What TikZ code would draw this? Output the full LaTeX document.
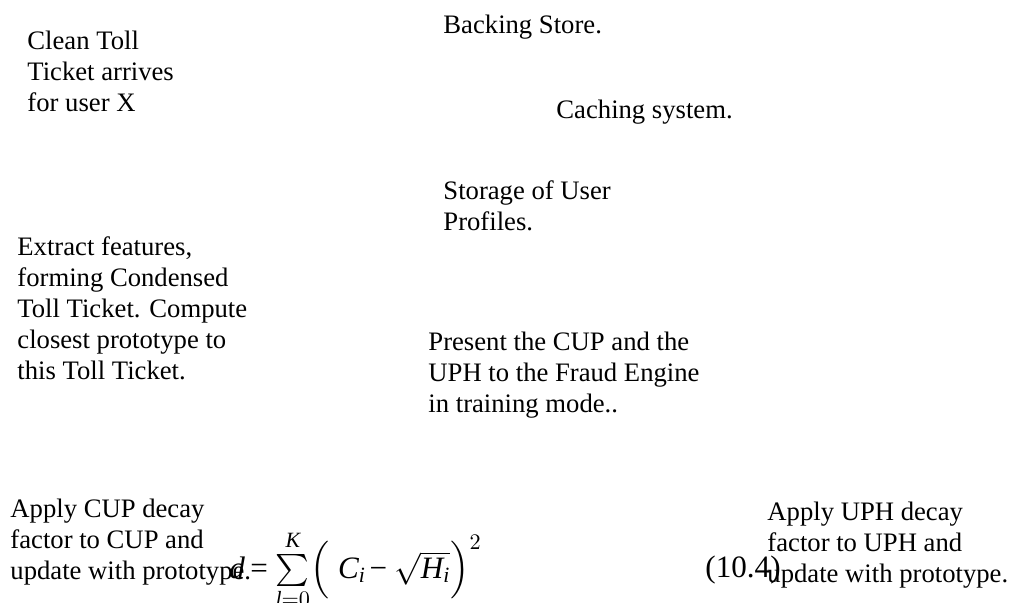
\documentclass[tikz,border=0pt]{standalone}
\usepackage{amsmath}
\usepackage{fontspec}
\setmainfont{Liberation Serif}

\begin{document}
\begin{tikzpicture}[x=0.45pt,y=-0.45pt]

\tikzset{note/.style = {anchor=base west, inner sep=0pt, align=left,
  font=\fontsize{12}{13.95}\selectfont}}
\tikzset{formula/.style = {anchor=base west, inner sep=0pt,
  font=\fontsize{14}{16}\selectfont}}

\useasboundingbox (0,0) rectangle (1009,602);

%labels (base = baseline of the last line)
\node[note] (clean) at (27,111) {Clean Toll\\Ticket arrives\\for user X};
\node[note] (backing) at (443,33) {Backing Store.};
\node[note] (caching) at (556,118) {Caching system.};
\node[note] (storage) at (443,230) {Storage of User\\Profiles.};
\node[note] (extract) at (17,379) {Extract features,\\forming Condensed\\Toll Ticket. Compute\\closest prototype to\\this Toll Ticket.};
\node[note] (present) at (428,412) {Present the CUP and the\\UPH to the Fraud Engine\\in training mode..};
\node[note] (cupdecay) at (10,579) {Apply CUP decay\\factor to CUP and\\update with prototype.};
\node[note] (uphdecay) at (767,582) {Apply UPH decay\\factor to UPH and\\update with prototype.};

%equation
\node[formula] (dist) at (229,578)
  {\textit{d}\,= $\sum\limits_{\textit{l}=0}^{\textit{K}}\Bigl(\;\textit{C}_{\textit{i}}\mskip2mu\mathord{\text{−}}\mskip4mu\sqrt{\textit{H}_{\textit{i}}}\Bigr)^{2}$};
\node[formula] (eqno) at (705,577) {(10.4)};

\end{tikzpicture}
\end{document}
